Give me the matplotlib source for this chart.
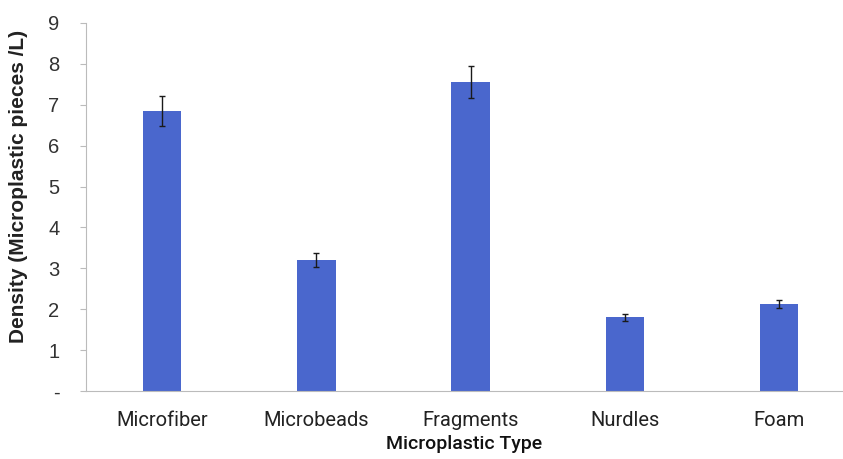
import numpy as np
from matplotlib import pyplot as plt

types = ['Microfiber', 'Microbeads', 'Fragments', 'Nurdles', 'Foam']
density = [6.85, 3.2, 7.55, 1.8, 2.12]
err = [0.36, 0.17, 0.39, 0.08, 0.1]
yticks = [0, 1, 2, 3, 4, 5, 6, 7, 8, 9]
ylabels = ['-', '1', '2', '3', '4', '5', '6', '7', '8', '9']

fig = plt.figure(figsize=(8.43, 4.59), dpi=100)
ax = fig.add_axes([0.102, 0.148, 0.898, 0.802])

x = np.arange(len(types))
ax.bar(x, density, width=0.25, color='#4A67CD', zorder=2)
ax.errorbar(x, density, yerr=err, fmt='none', ecolor='#1a1a1a',
            elinewidth=1, capsize=2.5, capthick=1, zorder=3)

ax.set_xlim(-0.4925, 4.4135)
ax.set_ylim(0, 9)
ax.set_yticks(yticks)
ax.set_yticklabels(ylabels, fontsize=14.5, color='#333333', family='Liberation Sans')
ax.set_xticks(x)
ax.set_xticklabels(types, fontsize=14.5, color='#222222', family='Roboto')
ax.tick_params(axis='x', length=0, pad=14)
ax.tick_params(axis='y', length=4.5, color='#bbbbbb', pad=14.5)

for s in ['top', 'right']:
    ax.spines[s].set_visible(False)
for s in ['left', 'bottom']:
    ax.spines[s].set_color('#bbbbbb')

ax.set_xlabel('Microplastic Type', fontsize=14, fontweight='medium', color='#111111',
              family='Roboto', labelpad=4)
ax.set_ylabel('Density (Microplastic pieces /L)', fontsize=15, fontweight='bold',
              color='#222222', family='Liberation Sans')
ax.yaxis.set_label_coords(-58 / (0.898 * 843), 0.557)

fig.savefig('out.png', dpi=100)
